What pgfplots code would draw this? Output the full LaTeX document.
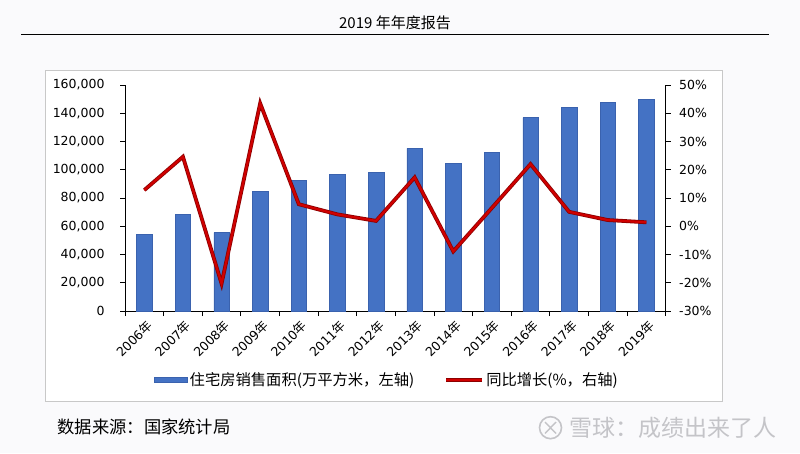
\documentclass[border=0pt]{standalone}
\usepackage{fontspec}
\setmainfont{DejaVu Sans}
\newfontfamily\cjk{Noto Sans CJK SC}
\usepackage{pgfplots}
\pgfplotsset{compat=1.18}
\definecolor{barblue}{HTML}{4472C4}
\definecolor{baredge}{HTML}{3A62AE}
\definecolor{linered}{HTML}{D00000}
\definecolor{lineedge}{HTML}{8C0000}
\definecolor{pagebg}{HTML}{FAFAFC}
\definecolor{boxgray}{HTML}{C8C8C8}
\definecolor{wmgray}{HTML}{C4C4C8}
\begin{document}
\begin{tikzpicture}
\fill[pagebg] (0pt,0pt) rectangle (800pt,453pt);
\useasboundingbox (0pt,0pt) rectangle (800pt,453pt);
\node[font=\cjk\fontsize{15}{15}\selectfont] at (395pt,430pt) {2019 年年度报告};
\draw[black, line width=1.5pt] (21pt,418.7pt) -- (769pt,418.7pt);
\draw[boxgray, fill=white, line width=0.8pt] (45pt,51.3pt) rectangle (722pt,383pt);
\node[anchor=west, font=\cjk\fontsize{17.3}{17.3}\selectfont] at (54pt,26.3pt) {数据来源：国家统计局};
\draw[wmgray, line width=1.6pt] (550.5pt,25.3pt) circle (11pt);
\draw[wmgray, line width=1.4pt] (545pt,31pt) -- (556pt,19.5pt) (545pt,19.5pt) -- (556pt,31pt);
\node[anchor=west, text=wmgray, font=\cjk\fontsize{23}{23}\selectfont, inner sep=0pt] at (569pt,25.3pt) {雪球：成绩出来了人};
\begin{axis}[
  at={(125pt,142pt)}, anchor=south west,
  scale only axis, width=540.7pt, height=226pt,
  xmin=-0.5, xmax=13.5, ymin=0, ymax=160000,
  axis y line*=left, axis x line*=bottom,
  axis line style={black, line width=0.9pt},
  xtick={0,...,13},
  xticklabels={2006{\cjk 年},2007{\cjk 年},2008{\cjk 年},2009{\cjk 年},2010{\cjk 年},2011{\cjk 年},2012{\cjk 年},2013{\cjk 年},2014{\cjk 年},2015{\cjk 年},2016{\cjk 年},2017{\cjk 年},2018{\cjk 年},2019{\cjk 年}},
  minor xtick={-0.5,0.5,...,13.5},
  every major x tick/.append style={draw=none},
  every minor x tick/.append style={draw=black, line width=0.9pt},
  minor tick length=5pt, major tick length=5pt,
  tick align=outside,
  ytick={0,20000,...,160000},
  y tick style={black, line width=0.9pt},
  scaled y ticks=false,
  /pgf/number format/.cd, fixed, 1000 sep={,}, assume math mode=true, /pgfplots/.cd,
  tick label style={font=\fontsize{12.5}{12.5}\selectfont},
  yticklabel style={xshift=-12pt},
  x tick label style={rotate=45, anchor=north east, inner sep=1pt, yshift=-2pt, font=\fontsize{12.5}{12.5}\selectfont},
  ybar, bar width=0.4,
]
\addplot[fill=barblue, draw=baredge, line width=0.5pt] coordinates {
(0,54100) (1,68600) (2,55500) (3,84900) (4,92700) (5,96700) (6,98100)
(7,115100) (8,104500) (9,112100) (10,136900) (11,144200) (12,147800) (13,149600)};
\end{axis}
\begin{axis}[
  at={(125pt,142pt)}, anchor=south west,
  scale only axis, width=540.7pt, height=226pt,
  xmin=-0.5, xmax=13.5, ymin=-30, ymax=50,
  axis y line*=right, axis x line=none,
  axis line style={black, line width=0.9pt},
  ytick={-30,-20,...,50},
  yticklabel={\pgfmathprintnumber{\tick}\%},
  y tick style={black, line width=0.9pt},
  major tick length=5pt, tick align=outside,
  /pgf/number format/assume math mode=true,
  tick label style={font=\fontsize{12.5}{12.5}\selectfont},
  yticklabel style={xshift=5pt},
  legend columns=2,
  legend style={draw=none, fill=none, at={(0.4846,-0.305)}, anchor=center,
    font=\cjk\fontsize{15.3}{15.3}\selectfont,
    /tikz/every even column/.append style={column sep=28pt}},
]
\addlegendimage{legend image code/.code={\fill[barblue,draw=baredge,line width=0.5pt] (0pt,-2.5pt) rectangle (33pt,2.5pt);}}
\addlegendimage{legend image code/.code={\draw[lineedge,line width=4pt] (0pt,0pt) -- (36pt,0pt); \draw[linered,line width=2.2pt] (0pt,0pt) -- (36pt,0pt);}}
\addplot[forget plot, lineedge, line width=3.8pt] coordinates {
(0,12.8) (1,24.6) (2,-20.3) (3,43.5) (4,7.8) (5,4.2) (6,1.9)
(7,17.3) (8,-8.9) (9,6.5) (10,22.0) (11,5.1) (12,2.2) (13,1.4)};
\addplot[forget plot, linered, line width=2.2pt] coordinates {
(0,12.8) (1,24.6) (2,-20.3) (3,43.5) (4,7.8) (5,4.2) (6,1.9)
(7,17.3) (8,-8.9) (9,6.5) (10,22.0) (11,5.1) (12,2.2) (13,1.4)};
\legend{住宅房销售面积(万平方米，左轴),同比增长(\%，右轴)}
\end{axis}
\end{tikzpicture}
\end{document}
